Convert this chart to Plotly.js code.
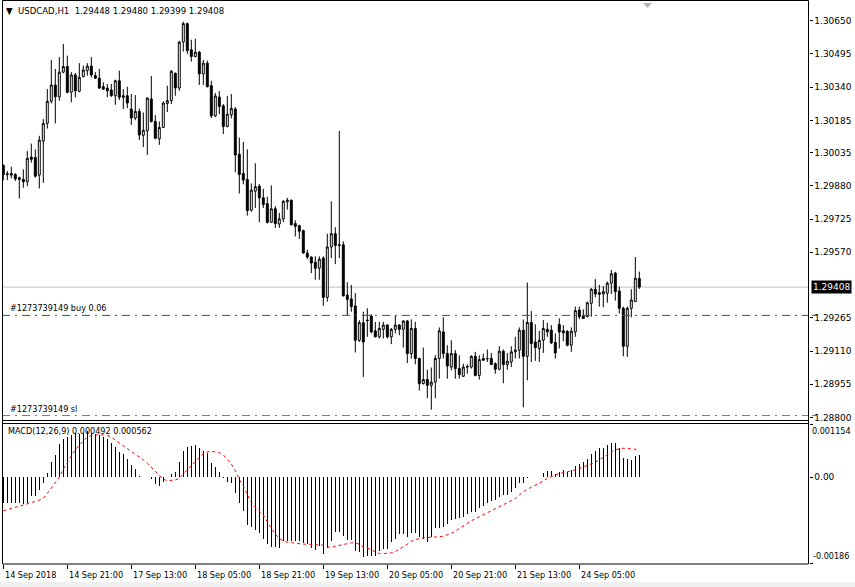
<!DOCTYPE html>
<html>
<head>
<meta charset="utf-8">
<script src="https://cdn.plot.ly/plotly-3.0.1.min.js"></script>
<style>html,body{margin:0;padding:0;background:#fff;}#chart{width:855px;height:587px;}</style>
</head>
<body>
<div id="chart"></div>
<script>
// ---------- DATA (USDCAD H1) ----------
const barOpen = [
1.29975,1.29932,1.29930,1.29933,1.29918,1.29910,1.29899,1.30014,1.30012,1.29930,
1.30089,1.30171,1.30274,1.30350,1.30295,1.30410,1.30436,1.30316,1.30397,1.30321,
1.30389,1.30417,1.30438,1.30394,1.30382,1.30342,1.30335,1.30327,1.30300,1.30370,
1.30300,1.30300,1.30238,1.30196,1.30227,1.30115,1.30136,1.30285,1.30180,1.30099,
1.30152,1.30264,1.30277,1.30405,1.30336,1.30550,1.30636,1.30514,1.30483,1.30503,
1.30402,1.30452,1.30347,1.30206,1.30294,1.30253,1.30157,1.30211,1.30238,1.30027,
1.29938,1.29910,1.29766,1.29855,1.29878,1.29824,1.29797,1.29710,1.29773,1.29702,
1.29726,1.29805,1.29813,1.29704,1.29694,1.29671,1.29567,1.29548,1.29524,1.29496,
1.29543,1.29360,1.29595,1.29657,1.29602,1.29605,1.29371,1.29353,1.29320,1.29160,
1.29242,1.29254,1.29273,1.29204,1.29176,1.29211,1.29231,1.29176,1.29211,1.29231,
1.29211,1.29250,1.29098,1.29215,1.29075,1.28958,1.28977,1.28950,1.28965,1.29075,
1.29199,1.29098,1.29035,1.29098,1.29028,1.28992,1.29035,1.29035,1.29085,1.28996,
1.29075,1.29075,1.29075,1.29051,1.29025,1.29109,1.29047,1.29059,1.29106,1.29114,
1.29207,1.29085,1.29243,1.29152,1.29122,1.29160,1.29211,1.29207,1.29150,1.29234,
1.29204,1.29202,1.29137,1.29199,1.29301,1.29273,1.29270,1.29332,1.29398,1.29382,
1.29376,1.29379,1.29426,1.29473,1.29390,1.29309,1.29132,1.29309,1.29340,1.29448];
const barHigh = [
1.29980,1.29949,1.29969,1.29939,1.29923,1.29957,1.30042,1.30077,1.30050,1.30113,
1.30191,1.30331,1.30467,1.30425,1.30480,1.30542,1.30487,1.30410,1.30406,1.30452,
1.30441,1.30452,1.30480,1.30410,1.30425,1.30363,1.30355,1.30355,1.30375,1.30417,
1.30331,1.30342,1.30308,1.30303,1.30241,1.30222,1.30293,1.30392,1.30210,1.30180,
1.30274,1.30347,1.30420,1.30408,1.30556,1.30645,1.30641,1.30561,1.30566,1.30509,
1.30467,1.30464,1.30370,1.30313,1.30322,1.30261,1.30299,1.30308,1.30247,1.30105,
1.30085,1.30050,1.29891,1.29985,1.29888,1.29866,1.29829,1.29882,1.29785,1.29754,
1.29813,1.29824,1.29816,1.29719,1.29699,1.29676,1.29582,1.29551,1.29551,1.29551,
1.29551,1.29657,1.29808,1.29687,1.30136,1.29621,1.29431,1.29418,1.29380,1.29254,
1.29293,1.29309,1.29282,1.29246,1.29246,1.29246,1.29235,1.29217,1.29275,1.29235,
1.29254,1.29254,1.29257,1.29246,1.29079,1.29126,1.29023,1.29033,1.29090,1.29220,
1.29267,1.29137,1.29160,1.29114,1.29090,1.29051,1.29048,1.29090,1.29106,1.29090,
1.29098,1.29117,1.29101,1.29057,1.29132,1.29117,1.29101,1.29132,1.29176,1.29220,
1.29257,1.29429,1.29296,1.29235,1.29204,1.29254,1.29242,1.29231,1.29192,1.29262,
1.29231,1.29207,1.29220,1.29317,1.29317,1.29304,1.29340,1.29403,1.29445,1.29418,
1.29413,1.29434,1.29488,1.29479,1.29410,1.29317,1.29317,1.29398,1.29548,1.29480];
const barLow = [
1.29905,1.29907,1.29915,1.29902,1.29821,1.29871,1.29878,1.29988,1.29918,1.29868,
1.29894,1.30147,1.30264,1.30171,1.30277,1.30405,1.30311,1.30269,1.30293,1.30316,
1.30386,1.30394,1.30386,1.30378,1.30331,1.30327,1.30293,1.30295,1.30258,1.30280,
1.30238,1.30242,1.30164,1.30186,1.30093,1.30061,1.30024,1.30175,1.30097,1.30071,
1.30149,1.30224,1.30261,1.30300,1.30323,1.30506,1.30495,1.30459,1.30478,1.30350,
1.30350,1.30339,1.30196,1.30200,1.30214,1.30121,1.30152,1.30194,1.29944,1.29844,
1.29887,1.29741,1.29760,1.29777,1.29710,1.29777,1.29704,1.29708,1.29684,1.29684,
1.29710,1.29769,1.29694,1.29644,1.29632,1.29564,1.29538,1.29473,1.29442,1.29442,
1.29321,1.29340,1.29543,1.29515,1.29543,1.29363,1.29278,1.29293,1.29103,1.29152,
1.28989,1.29176,1.29192,1.29173,1.29168,1.29168,1.29168,1.29142,1.29192,1.29184,
1.29126,1.29054,1.29075,1.29048,1.28926,1.28954,1.28890,1.28836,1.28890,1.28981,
1.29075,1.28981,1.29020,1.28981,1.28981,1.28989,1.29004,1.29028,1.28992,1.28977,
1.29064,1.29059,1.29044,1.29004,1.29020,1.28960,1.29023,1.29035,1.29075,1.29075,
1.28848,1.28973,1.29059,1.29064,1.29059,1.29101,1.29176,1.29142,1.29075,1.29122,
1.29156,1.29132,1.29106,1.29176,1.29258,1.29259,1.29267,1.29270,1.29360,1.29317,
1.29314,1.29335,1.29376,1.29345,1.29285,1.29085,1.29082,1.29267,1.29339,1.29399];
const barClose = [
1.29933,1.29936,1.29937,1.29913,1.29910,1.29899,1.30008,1.30004,1.29925,1.30093,
1.30171,1.30274,1.30350,1.30295,1.30410,1.30436,1.30316,1.30397,1.30323,1.30386,
1.30420,1.30438,1.30397,1.30382,1.30336,1.30331,1.30323,1.30300,1.30370,1.30293,
1.30293,1.30266,1.30196,1.30227,1.30117,1.30139,1.30289,1.30180,1.30102,1.30152,
1.30266,1.30277,1.30414,1.30336,1.30550,1.30636,1.30511,1.30483,1.30503,1.30402,
1.30452,1.30342,1.30206,1.30299,1.30250,1.30157,1.30214,1.30241,1.30024,1.29933,
1.29907,1.29765,1.29860,1.29876,1.29824,1.29793,1.29710,1.29773,1.29704,1.29726,
1.29808,1.29813,1.29699,1.29691,1.29668,1.29567,1.29548,1.29520,1.29496,1.29538,
1.29360,1.29595,1.29657,1.29602,1.29605,1.29368,1.29351,1.29317,1.29160,1.29242,
1.29152,1.29252,1.29199,1.29176,1.29215,1.29231,1.29176,1.29211,1.29231,1.29211,
1.29250,1.29098,1.29215,1.29075,1.28958,1.28977,1.28950,1.28965,1.29075,1.29204,
1.29098,1.29040,1.29098,1.29028,1.29000,1.29035,1.29037,1.29085,1.28996,1.29070,
1.29067,1.29074,1.29047,1.29025,1.29109,1.29047,1.29062,1.29106,1.29114,1.29207,
1.29085,1.29243,1.29145,1.29126,1.29160,1.29215,1.29199,1.29148,1.29101,1.29199,
1.29195,1.29137,1.29202,1.29298,1.29270,1.29262,1.29335,1.29398,1.29376,1.29374,
1.29387,1.29426,1.29470,1.29387,1.29309,1.29132,1.29309,1.29348,1.29449,1.29408];
const macdMain = [
-565e-6,-565e-6,-565e-6,-565e-6,-565e-6,-579e-6,-550e-6,-405e-6,-405e-6,-275e-6,
-116e-6,101e-6,340e-6,485e-6,724e-6,833e-6,883e-6,919e-6,956e-6,941e-6,
970e-6,992e-6,956e-6,941e-6,919e-6,869e-6,825e-6,738e-6,666e-6,557e-6,
500e-6,391e-6,268e-6,174e-6,29e-6,14e-6,14e-6,-43e-6,-145e-6,-188e-6,
-101e-6,14e-6,65e-6,109e-6,340e-6,579e-6,652e-6,681e-6,702e-6,630e-6,
579e-6,521e-6,319e-6,217e-6,123e-6,-5e-6,-94e-6,-123e-6,-333e-6,-565e-6,
-724e-6,-1035e-6,-1086e-6,-1144e-6,-1216e-6,-1325e-6,-1434e-6,-1506e-6,-1506e-6,-1520e-6,
-1376e-6,-1376e-6,-1376e-6,-1376e-6,-1376e-6,-1419e-6,-1448e-6,-1528e-6,-1564e-6,-1491e-6,
-1651e-6,-1520e-6,-1376e-6,-1180e-6,-1180e-6,-1274e-6,-1347e-6,-1361e-6,-1593e-6,-1615e-6,
-1723e-6,-1701e-6,-1701e-6,-1701e-6,-1593e-6,-1557e-6,-1542e-6,-1397e-6,-1325e-6,-1231e-6,
-1231e-6,-1289e-6,-1216e-6,-1202e-6,-1289e-6,-1325e-6,-1397e-6,-1289e-6,-1108e-6,-1108e-6,
-1072e-6,-1014e-6,-927e-6,-905e-6,-876e-6,-854e-6,-796e-6,-746e-6,-746e-6,-673e-6,
-623e-6,-565e-6,-507e-6,-492e-6,-420e-6,-384e-6,-384e-6,-311e-6,-239e-6,-116e-6,
-116e-6,-7e-6,7e-6,7e-6,14e-6,87e-6,145e-6,138e-6,72e-6,109e-6,
159e-6,123e-6,159e-6,246e-6,282e-6,326e-6,398e-6,507e-6,572e-6,630e-6,
644e-6,702e-6,753e-6,738e-6,630e-6,413e-6,391e-6,376e-6,463e-6,492e-6];
const macdSignal = [
-724e-6,-695e-6,-666e-6,-644e-6,-623e-6,-601e-6,-579e-6,-550e-6,-521e-6,-492e-6,
-456e-6,-347e-6,-239e-6,-130e-6,0,174e-6,333e-6,463e-6,594e-6,695e-6,
796e-6,869e-6,905e-6,919e-6,927e-6,919e-6,905e-6,869e-6,811e-6,738e-6,
681e-6,623e-6,565e-6,507e-6,449e-6,376e-6,304e-6,217e-6,123e-6,29e-6,
-43e-6,-72e-6,-72e-6,-58e-6,-22e-6,72e-6,159e-6,253e-6,348e-6,434e-6,
507e-6,550e-6,565e-6,550e-6,536e-6,485e-6,391e-6,290e-6,145e-6,-43e-6,
-188e-6,-362e-6,-550e-6,-652e-6,-746e-6,-818e-6,-963e-6,-1086e-6,-1231e-6,-1325e-6,
-1376e-6,-1405e-6,-1419e-6,-1434e-6,-1434e-6,-1448e-6,-1448e-6,-1455e-6,-1470e-6,-1470e-6,
-1470e-6,-1506e-6,-1520e-6,-1491e-6,-1470e-6,-1455e-6,-1434e-6,-1419e-6,-1419e-6,-1448e-6,
-1506e-6,-1528e-6,-1564e-6,-1615e-6,-1651e-6,-1651e-6,-1651e-6,-1636e-6,-1607e-6,-1564e-6,
-1506e-6,-1448e-6,-1383e-6,-1347e-6,-1325e-6,-1311e-6,-1303e-6,-1303e-6,-1296e-6,-1289e-6,
-1274e-6,-1253e-6,-1216e-6,-1166e-6,-1108e-6,-1057e-6,-999e-6,-941e-6,-898e-6,-854e-6,
-818e-6,-782e-6,-731e-6,-688e-6,-652e-6,-601e-6,-557e-6,-514e-6,-463e-6,-384e-6,
-311e-6,-261e-6,-217e-6,-167e-6,-116e-6,-80e-6,-22e-6,14e-6,65e-6,87e-6,
101e-6,116e-6,130e-6,159e-6,188e-6,217e-6,261e-6,290e-6,326e-6,376e-6,
434e-6,485e-6,543e-6,594e-6,615e-6,630e-6,623e-6,615e-6,608e-6,562e-6];

const timeTickBars = [0,16,32,48,64,80,96,112,128,144];
const timeTickLabels = ["14 Sep 2018","14 Sep 21:00","17 Sep 13:00","18 Sep 05:00","18 Sep 21:00",
                        "19 Sep 13:00","20 Sep 05:00","20 Sep 21:00","21 Sep 13:00","24 Sep 05:00"];
const priceTicks = [1.30650,1.30495,1.30340,1.30185,1.30035,1.29880,1.29725,1.29570,1.29265,1.29110,1.28955,1.28800];
const priceTickLabels = ["1.30650","1.30495","1.30340","1.30185","1.30035","1.29880","1.29725","1.29570","1.29265","1.29110","1.28955","1.28800"];
const macdMaxLabel = 0.001154, macdMinLabel = -0.00186;
const buyPrice = 1.29276;
const slPrice = 1.28809;
const orderId = "#1273739149";
const headerText = "\u25BC  USDCAD,H1  1.29448 1.29480 1.29399 1.29408";
const macdText = "MACD(12,26,9) 0.000492 0.000562";

// ---------- LAYOUT HELPERS ----------
const W = 855, H = 587;
const px = x => x / W;
const py = y => 1 - y / H;
const idx = barClose.map((_, i) => i);
const lastClose = barClose[barClose.length - 1];
const FONT = "DejaVu Sans";
const FONTC = "'DejaVu Sans Condensed', 'DejaVu Sans'";

const traces = [
  {
    type: 'candlestick', x: idx, open: barOpen, high: barHigh, low: barLow, close: barClose,
    xaxis: 'x', yaxis: 'y',
    increasing: {line: {color: '#000', width: 1}, fillcolor: '#ffffff'},
    decreasing: {line: {color: '#000', width: 1}, fillcolor: '#000000'},
    whiskerwidth: 0, hoverinfo: 'none', showlegend: false
  },
  {
    type: 'bar', x: idx, y: macdMain, xaxis: 'x', yaxis: 'y2',
    marker: {color: '#000', line: {width: 0}}, width: 0.3, hoverinfo: 'none', showlegend: false
  },
  {
    type: 'scatter', mode: 'lines', x: idx, y: macdSignal, xaxis: 'x', yaxis: 'y2',
    line: {color: '#ff0000', width: 1, dash: 'dot'}, hoverinfo: 'none', showlegend: false
  }
];

const shapes = [
  {type: 'line', xref: 'paper', yref: 'y', x0: px(2), x1: px(808), y0: lastClose, y1: lastClose,
   line: {color: '#c0c0c0', width: 1}, layer: 'below'},
  {type: 'line', xref: 'paper', yref: 'y', x0: px(2), x1: px(808), y0: buyPrice, y1: buyPrice,
   line: {color: '#008000', width: 1, dash: '8px,5px,2px,5px'}},
  {type: 'line', xref: 'paper', yref: 'y', x0: px(2), x1: px(808), y0: slPrice, y1: slPrice,
   line: {color: '#ff4500', width: 1, dash: '8px,5px,2px,5px'}},
  {type: 'line', xref: 'paper', yref: 'y', x0: px(812), x1: px(818), y0: buyPrice, y1: buyPrice, line: {color: '#008000', width: 1}},
  {type: 'line', xref: 'paper', yref: 'y', x0: px(812), x1: px(818), y0: slPrice, y1: slPrice, line: {color: '#ff4500', width: 1}},
  {type: 'line', xref: 'paper', yref: 'paper', x0: px(2.5), x1: px(2.5), y0: py(0.5), y1: py(564), line: {color: '#000', width: 1}},
  {type: 'line', xref: 'paper', yref: 'paper', x0: px(808.5), x1: px(808.5), y0: py(0.5), y1: py(564), line: {color: '#000', width: 1}},
  {type: 'line', xref: 'paper', yref: 'paper', x0: px(2.5), x1: px(808.5), y0: py(0.5), y1: py(0.5), line: {color: '#000', width: 1}},
  {type: 'line', xref: 'paper', yref: 'paper', x0: px(2.5), x1: px(808.5), y0: py(420.5), y1: py(420.5), line: {color: '#000', width: 1}},
  {type: 'line', xref: 'paper', yref: 'paper', x0: px(2.5), x1: px(808.5), y0: py(423.5), y1: py(423.5), line: {color: '#000', width: 1}},
  {type: 'line', xref: 'paper', yref: 'paper', x0: px(2.5), x1: px(808.5), y0: py(564), y1: py(564), line: {color: '#000', width: 1}},
  {type: 'path', xref: 'paper', yref: 'paper',
   path: `M ${px(643)} ${py(3)} L ${px(652)} ${py(3)} L ${px(647.5)} ${py(8)} Z`,
   fillcolor: '#b4b4b4', line: {width: 0}},
  {type: 'rect', xref: 'paper', yref: 'paper', x0: 0, x1: 1, y0: 0, y1: py(582), fillcolor: '#f0f0f0', line: {width: 0}, layer: 'below'}
];

const annotations = [
  {xref: 'paper', yref: 'paper', x: px(4), y: py(10), xanchor: 'left', yanchor: 'middle', showarrow: false,
   text: headerText, font: {family: FONTC, size: 9.5, color: '#000'}},
  {xref: 'paper', yref: 'paper', x: px(6), y: py(431), xanchor: 'left', yanchor: 'middle', showarrow: false,
   text: macdText, font: {family: FONTC, size: 9, color: '#000'}},
  {xref: 'paper', yref: 'y', x: px(8), y: buyPrice, xanchor: 'left', yanchor: 'bottom', showarrow: false,
   text: orderId + " buy 0.06", font: {family: FONTC, size: 9, color: '#000'}},
  {xref: 'paper', yref: 'y', x: px(8), y: slPrice, xanchor: 'left', yanchor: 'bottom', showarrow: false,
   text: orderId + " sl", font: {family: FONTC, size: 9, color: '#000'}},
  {xref: 'paper', yref: 'y', x: px(811), y: lastClose, xanchor: 'left', yanchor: 'middle', showarrow: false,
   text: lastClose.toFixed(5), bgcolor: '#000', borderpad: 1, font: {family: FONT, size: 9, color: '#fff'}},
  {xref: 'paper', yref: 'y2', x: px(810), y: macdMaxLabel, xanchor: 'left', yanchor: 'top', showarrow: false,
   text: String(macdMaxLabel), font: {family: FONTC, size: 9, color: '#000'}},
  {xref: 'paper', yref: 'y2', x: px(811), y: macdMinLabel, xanchor: 'left', yanchor: 'bottom', showarrow: false,
   text: macdMinLabel.toFixed(5), font: {family: FONTC, size: 9, color: '#000'}}
];
timeTickBars.forEach((b, k) => {
  annotations.push({xref: 'x', yref: 'paper', x: b, y: py(568), xanchor: 'left', yanchor: 'top',
    showarrow: false, text: timeTickLabels[k], font: {family: FONTC, size: 9, color: '#000'}});
});

const layout = {
  width: W, height: H, margin: {l: 0, r: 0, t: 0, b: 0},
  paper_bgcolor: '#ffffff', plot_bgcolor: '#ffffff',
  font: {family: FONT, size: 9, color: '#000'},
  showlegend: false, dragmode: false, bargap: 0,
  xaxis: {domain: [px(2.5), px(808.5)], range: [-0.2, 201.3], anchor: 'y2',
    showgrid: false, zeroline: false, showline: false, showticklabels: false,
    tickmode: 'array', tickvals: timeTickBars, ticks: 'outside', ticklen: 4, tickcolor: '#000', tickwidth: 1,
    rangeslider: {visible: false}, fixedrange: true},
  yaxis: {domain: [py(420.5), py(0.5)], range: [1.28786, 1.30744], side: 'right', anchor: 'x',
    showgrid: false, zeroline: false, showline: false,
    tickmode: 'array', tickvals: priceTicks, ticktext: priceTickLabels,
    ticks: 'outside', ticklen: 3, tickcolor: '#000', tickfont: {family: FONT, size: 9}, fixedrange: true},
  yaxis2: {domain: [py(564), py(423.5)], range: [-0.001877, 0.001165], side: 'right', anchor: 'x',
    showgrid: false, zeroline: false, showline: false,
    tickmode: 'array', tickvals: [0, macdMaxLabel, macdMinLabel], ticktext: ['0.00', '', ''],
    ticks: 'outside', ticklen: 3, tickcolor: '#000', tickfont: {family: FONT, size: 9}, fixedrange: true},
  shapes: shapes, annotations: annotations
};

Plotly.newPlot('chart', traces, layout, {staticPlot: true, displayModeBar: false});
</script>
</body>
</html>
